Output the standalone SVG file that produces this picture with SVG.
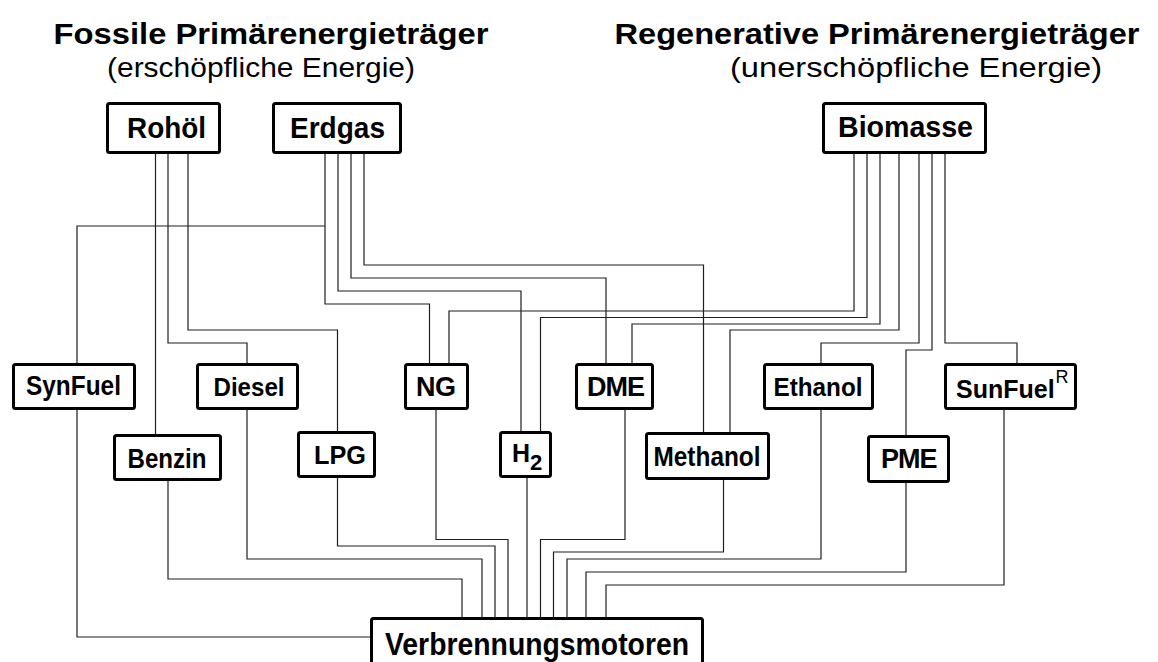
<svg xmlns="http://www.w3.org/2000/svg" width="1158" height="662" viewBox="0 0 1158 662">
  <style>
    .box { fill: #ffffff; stroke: #000000; stroke-width: 3; }
    .wire { fill: none; stroke: #1e1e1e; stroke-width: 1.2; }
    .lbl { font-family: "Liberation Sans", Arial, sans-serif; font-weight: bold; fill: #000000; }
    .title { font-family: "Liberation Sans", Arial, sans-serif; font-weight: bold; font-size: 30px; fill: #000000; }
    .sub { font-family: "Liberation Sans", Arial, sans-serif; font-size: 28px; fill: #000000; }
  </style>
  <rect width="1158" height="662" fill="#ffffff"/>

  <!-- headings -->
  <g id="heading-fossil">
    <text class="title" x="53.5" y="44" textLength="435" lengthAdjust="spacingAndGlyphs">Fossile Primärenergieträger</text>
    <text class="sub" x="107" y="77" textLength="308" lengthAdjust="spacingAndGlyphs">(erschöpfliche Energie)</text>
  </g>
  <g id="heading-renewable">
    <text class="title" x="614.5" y="44" textLength="525" lengthAdjust="spacingAndGlyphs">Regenerative Primärenergieträger</text>
    <text class="sub" x="730" y="77" textLength="372" lengthAdjust="spacingAndGlyphs">(unerschöpfliche Energie)</text>
  </g>

  <!-- connectors -->
  <g id="connectors" class="wire">
    <!-- Rohöl -->
    <path d="M155.5 154 V434"/>
    <path d="M168 154 V343 H247 V363"/>
    <path d="M188 154 V330 H337.5 V431"/>
    <!-- Erdgas -->
    <path d="M325 154 V304 H429.5 V363"/>
    <path d="M325 226 H77 V363"/>
    <path d="M338 154 V291 H521 V431"/>
    <path d="M351 154 V278 H606 V363"/>
    <path d="M364 154 V265 H703.5 V432"/>
    <!-- Biomasse -->
    <path d="M854 154 V311 H449 V363"/>
    <path d="M867 154 V317.5 H540.5 V431"/>
    <path d="M880 154 V324 H632 V363"/>
    <path d="M899 154 V330 H730 V432"/>
    <path d="M919 154 V343 H821 V363"/>
    <path d="M932 154 V350 H906 V435"/>
    <path d="M945 154 V343 H1017 V363"/>
    <!-- fuels to engines -->
    <path d="M77 410 V637 H370"/>
    <path d="M168 481 V579 H462 V617"/>
    <path d="M247 410 V559 H482 V617"/>
    <path d="M337.5 478 V546 H495 V617"/>
    <path d="M436 410 V539.5 H508 V617"/>
    <path d="M527 478 V617"/>
    <path d="M625 410 V539.5 H540.5 V617"/>
    <path d="M723.5 480 V552 H553.5 V617"/>
    <path d="M821 410 V559 H567 V617"/>
    <path d="M906 483 V572 H586 V617"/>
    <path d="M1004 410 V585 H606 V617"/>
  </g>

  <!-- primary energy carriers -->
  <g id="node-rohoel">
    <rect class="box" x="107.5" y="103.5" width="112" height="49" rx="2"/>
    <text class="lbl" x="127" y="137.5" font-size="29" textLength="79" lengthAdjust="spacingAndGlyphs">Rohöl</text>
  </g>
  <g id="node-erdgas">
    <rect class="box" x="273.5" y="103.5" width="127" height="49" rx="2"/>
    <text class="lbl" x="290" y="137.5" font-size="29" textLength="95" lengthAdjust="spacingAndGlyphs">Erdgas</text>
  </g>
  <g id="node-biomasse">
    <rect class="box" x="823.5" y="103.5" width="162" height="49" rx="2"/>
    <text class="lbl" x="838" y="137" font-size="29" textLength="135" lengthAdjust="spacingAndGlyphs">Biomasse</text>
  </g>

  <!-- fuels -->
  <g id="node-synfuel">
    <rect class="box" x="13.5" y="364.5" width="121" height="44" rx="2"/>
    <text class="lbl" x="26" y="394.5" font-size="27" textLength="95" lengthAdjust="spacingAndGlyphs">SynFuel</text>
  </g>
  <g id="node-diesel">
    <rect class="box" x="197.5" y="364.5" width="100" height="44" rx="2"/>
    <text class="lbl" x="213.5" y="396" font-size="26" textLength="71" lengthAdjust="spacingAndGlyphs">Diesel</text>
  </g>
  <g id="node-benzin">
    <rect class="box" x="114.5" y="435.5" width="106" height="44" rx="2"/>
    <text class="lbl" x="127.5" y="467.5" font-size="27" textLength="79" lengthAdjust="spacingAndGlyphs">Benzin</text>
  </g>
  <g id="node-lpg">
    <rect class="box" x="298.5" y="432.5" width="76" height="44" rx="2"/>
    <text class="lbl" x="314" y="463.5" font-size="25" textLength="52" lengthAdjust="spacingAndGlyphs">LPG</text>
  </g>
  <g id="node-ng">
    <rect class="box" x="405.5" y="364.5" width="62" height="44" rx="2"/>
    <text class="lbl" x="416" y="396" font-size="27" textLength="40" lengthAdjust="spacing">NG</text>
  </g>
  <g id="node-h2">
    <rect class="box" x="500.5" y="432.5" width="50" height="44" rx="2"/>
    <text class="lbl" x="512" y="461.5" font-size="25">H<tspan dy="8" font-size="22">2</tspan></text>
  </g>
  <g id="node-dme">
    <rect class="box" x="576.5" y="364.5" width="76" height="44" rx="2"/>
    <text class="lbl" x="587" y="396" font-size="27" textLength="58" lengthAdjust="spacing">DME</text>
  </g>
  <g id="node-methanol">
    <rect class="box" x="646.5" y="433.5" width="122" height="45" rx="2"/>
    <text class="lbl" x="653.5" y="466" font-size="27" textLength="107" lengthAdjust="spacingAndGlyphs">Methanol</text>
  </g>
  <g id="node-ethanol">
    <rect class="box" x="764.5" y="364.5" width="108" height="44" rx="2"/>
    <text class="lbl" x="773.5" y="395.5" font-size="26" textLength="89" lengthAdjust="spacingAndGlyphs">Ethanol</text>
  </g>
  <g id="node-pme">
    <rect class="box" x="868.5" y="436.5" width="80" height="45" rx="2"/>
    <text class="lbl" x="881" y="467.5" font-size="27" textLength="56.5" lengthAdjust="spacing">PME</text>
  </g>
  <g id="node-sunfuel">
    <rect class="box" x="945.5" y="364.5" width="130" height="44" rx="2"/>
    <text class="lbl" x="956" y="397.5" font-size="25">SunFuel<tspan dx="1" dy="-15" font-size="18" font-weight="normal">R</tspan></text>
  </g>

  <!-- engines -->
  <g id="node-verbrennungsmotoren">
    <rect class="box" x="371.5" y="618.5" width="331" height="60" rx="2"/>
    <text class="lbl" x="385" y="655" font-size="32" textLength="304" lengthAdjust="spacingAndGlyphs">Verbrennungsmotoren</text>
  </g>
</svg>
